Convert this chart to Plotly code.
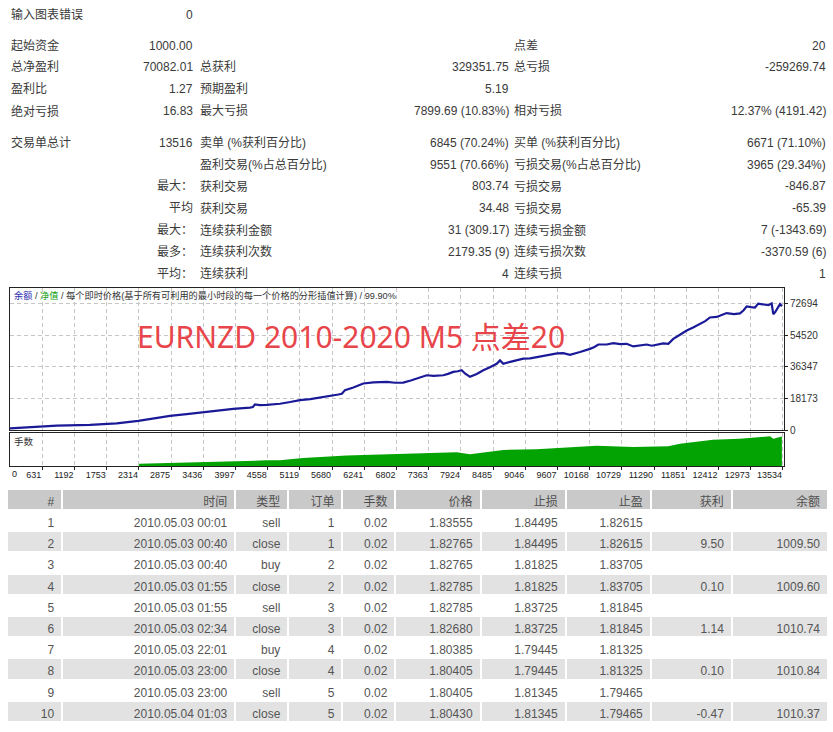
import plotly.graph_objects as go

W, H = 833, 732

# ---------------- summary statistics (top block) ----------------
row_y = [15, 46, 68, 90, 112, 144, 166, 188, 210, 232, 254, 276]
col1_labels = ["输入图表错误", "起始资金", "总净盈利", "盈利比", "绝对亏损", "交易单总计"]
col1_values = ["0", "1000.00", "70082.01", "1.27", "16.83", "13516", "",
               "最大：", "平均", "最大：", "最多：", "平均："]
col2_labels = ["", "", "总获利", "预期盈利", "最大亏损", "卖单 (%获利百分比)",
               "盈利交易(%占总百分比)", "获利交易", "获利交易", "连续获利金额",
               "连续获利次数", "连续获利"]
col2_values = ["", "", "329351.75", "5.19", "7899.69 (10.83%)", "6845 (70.24%)",
               "9551 (70.66%)", "803.74", "34.48", "31 (309.17)", "2179.35 (9)", "4"]
col3_labels = ["", "点差", "总亏损", "", "相对亏损", "买单 (%获利百分比)",
               "亏损交易(%占总百分比)", "亏损交易", "亏损交易", "连续亏损金额",
               "连续亏损次数", "连续亏损"]
col3_values = ["", "20", "-259269.74", "", "12.37% (4191.42)", "6671 (71.10%)",
               "3965 (29.34%)", "-846.87", "-65.39", "7 (-1343.69)", "-3370.59 (6)", "1"]

# ---------------- balance curve (trade number -> balance) ----------------
bal_trades = [0, 648, 882, 1462, 1753, 1927, 2303, 2565, 2856, 3146, 3436, 3727,
              3958, 4249, 4300, 4336, 4420, 4540, 4650, 4772, 4950, 5120, 5300,
              5469, 5620, 5788, 5850, 5904, 6050, 6223, 6400, 6631, 6780,
              6920, 7050, 7154, 7240, 7328, 7450, 7617, 7700, 7791, 7870, 7937,
              8000, 8082, 8200, 8314, 8430, 8547, 8605, 8662, 8800, 9011, 9130,
              9244, 9360, 9476, 9600, 9708, 9824, 9999, 10080, 10173, 10250,
              10318, 10464, 10579, 10700, 10812, 10927, 11050, 11161, 11250,
              11335, 11450, 11537, 11624, 11740, 11858, 11970, 12089, 12180,
              12263, 12380, 12467, 12554, 12680, 12786, 12850, 12903, 12980,
              13047, 13105, 13200, 13279, 13338, 13366, 13400, 13436, 13483, 13516]
balance = [1000, 2300, 2700, 3200, 3600, 4100, 5500, 7000, 8300, 9300, 10400, 11700,
           12300, 13100, 13400, 14900, 14500, 14600, 14900, 15300, 16300, 17400, 17900,
           18700, 19500, 20600, 21000, 23100, 24600, 26900, 27500, 27800, 27300,
           27400, 28600, 29700, 30800, 31600, 31200, 31600, 32400, 33500, 33900, 34500,
           32500, 30700, 32300, 34500, 36200, 38200, 40100, 38200, 39400, 41100, 41300,
           42000, 42600, 43500, 44100, 44300, 43300, 44900, 45600, 46700, 47800,
           49200, 49200, 50000, 49400, 49600, 48100, 48600, 49200, 48500,
           49000, 49800, 49600, 52400, 54800, 57200, 58900, 60900, 62600,
           64700, 65000, 66100, 67200, 66600, 67000, 68800, 71000, 70600,
           70400, 72600, 71900, 71700, 72690, 66600, 67800, 69500, 72300, 71082]

# ---------------- lots panel ----------------
lot_trades = [0, 2310, 2320, 2856, 3436, 4249, 4540, 4772, 5172, 5934, 6914, 7328,
              7850, 8082, 8662, 9244, 9892, 10289, 10927, 11537, 11741, 12089,
              12315, 12786, 13077, 13309, 13366, 13516]
lots = [0.02, 0.02, 0.13, 0.17, 0.24, 0.31, 0.30, 0.31, 0.41, 0.53, 0.61, 0.64,
        0.69, 0.59, 0.80, 0.84, 0.92, 1.00, 0.94, 0.98, 1.10, 1.23,
        1.29, 1.34, 1.42, 1.46, 1.34, 1.45]

x_tick_vals = [631, 1192, 1753, 2314, 2875, 3436, 3997, 4558, 5119, 5680, 6241,
               6802, 7363, 7924, 8485, 9046, 9607, 10168, 10729, 11290, 11851,
               12412, 12973, 13534]
x_tick_text = [str(v) for v in x_tick_vals]
y_tick_vals = [0, 18173, 36347, 54520, 72694]
y_tick_text = ["0", "18173", "36347", "54520", "72694"]

# ---------------- trade list table ----------------
tbl_header = ["#", "时间", "类型", "订单", "手数", "价格", "止损", "止盈", "获利", "余额"]
tbl_no = ["1", "2", "3", "4", "5", "6", "7", "8", "9", "10"]
tbl_time = ["2010.05.03 00:01", "2010.05.03 00:40", "2010.05.03 00:40",
            "2010.05.03 01:55", "2010.05.03 01:55", "2010.05.03 02:34",
            "2010.05.03 22:01", "2010.05.03 23:00", "2010.05.03 23:00",
            "2010.05.04 01:03"]
tbl_type = ["sell", "close", "buy", "close", "sell", "close", "buy", "close", "sell", "close"]
tbl_order = ["1", "1", "2", "2", "3", "3", "4", "4", "5", "5"]
tbl_lots = ["0.02", "0.02", "0.02", "0.02", "0.02", "0.02", "0.02", "0.02", "0.02", "0.02"]
tbl_price = ["1.83555", "1.82765", "1.82765", "1.82785", "1.82785", "1.82680",
             "1.80385", "1.80405", "1.80405", "1.80430"]
tbl_sl = ["1.84495", "1.84495", "1.81825", "1.81825", "1.83725", "1.83725",
          "1.79445", "1.79445", "1.81345", "1.81345"]
tbl_tp = ["1.82615", "1.82615", "1.83705", "1.83705", "1.81845", "1.81845",
          "1.81325", "1.81325", "1.79465", "1.79465"]
tbl_profit = ["", "9.50", "", "0.10", "", "1.14", "", "0.10", "", "-0.47"]
tbl_balance = ["", "1009.50", "", "1009.60", "", "1010.74", "", "1010.84", "", "1010.37"]

FONT = "Liberation Sans, Noto Sans CJK SC, sans-serif"
TXT = "#3a3a3a"
GRID = "#c6c6c6"


def px(x):
    return x / W


def py(y):
    return 1 - y / H


fig = go.Figure()

fig.add_trace(go.Scatter(x=bal_trades, y=balance, mode="lines",
                         line=dict(color="#1a1a98", width=2.2),
                         xaxis="x", yaxis="y", showlegend=False, hoverinfo="skip"))
fig.add_trace(go.Scatter(x=lot_trades, y=lots, mode="lines",
                         line=dict(color="#00a000", width=0), fill="tozeroy",
                         fillcolor="#02a302", xaxis="x2", yaxis="y2",
                         showlegend=False, hoverinfo="skip"))

n_rows = len(tbl_no)
row_fill = ["#ffffff" if i % 2 == 0 else "#e2e2e2" for i in range(n_rows)]
fig.add_trace(go.Table(
    domain=dict(x=[px(7), px(828)], y=[0, py(493)]),
    columnwidth=[55, 173, 53, 54, 53, 85, 85, 85, 81, 96],
    header=dict(values=tbl_header, fill_color="#c9c9c9", align="right",
                line=dict(color="#ffffff", width=2), height=21,
                font=dict(family=FONT, size=12, color="#505050")),
    cells=dict(values=[tbl_no, tbl_time, tbl_type, tbl_order, tbl_lots, tbl_price,
                       tbl_sl, tbl_tp, tbl_profit, tbl_balance],
               fill_color=[row_fill] * 10, align="right",
               line=dict(color="#ffffff", width=2), height=21.2,
               font=dict(family=FONT, size=12, color="#555555")),
))

ann = []


def add_text(x, y, text, anchor, size=12, color=TXT):
    if text == "":
        return
    ann.append(dict(x=px(x), y=py(y), xref="paper", yref="paper", text=text,
                    xanchor=anchor, yanchor="middle", showarrow=False,
                    font=dict(family=FONT, size=size, color=color)))


for i, t in enumerate(col1_labels):
    add_text(9, row_y[i], t, "left")
for i, t in enumerate(col1_values):
    add_text(195, row_y[i], t, "right")
for i, t in enumerate(col2_labels):
    add_text(198, row_y[i], t, "left")
for i, t in enumerate(col2_values):
    add_text(511, row_y[i], t, "right")
for i, t in enumerate(col3_labels):
    add_text(512, row_y[i], t, "left")
for i, t in enumerate(col3_values):
    add_text(828, row_y[i], t, "right")

# chart header line
add_text(12, 298,
         '<span style="color:#2b2bb0">余额</span> / '
         '<span style="color:#10a010">净值</span> / '
         '每个即时价格(基于所有可利用的最小时段的每一个价格的分形插值计算) / 99.90%',
         "left", size=9.2, color="#333333")
add_text(12, 445, "手数", "left", size=9.5, color="#333333")
add_text(10, 478, "0", "left", size=9, color="#222222")
ann.append(dict(x=px(351), y=py(339), xref="paper", yref="paper",
                text="EURNZD 2010-2020 M5 点差20", showarrow=False,
                xanchor="center", yanchor="middle",
                font=dict(family="Noto Sans, Noto Sans CJK SC, sans-serif",
                          size=30, color="#e8454a")))

x_range = [68, 13553]
common_x = dict(range=x_range, tickvals=x_tick_vals, showgrid=True, gridcolor=GRID,
                griddash="4px,3px", gridwidth=1, zeroline=False, showline=True,
                mirror=True, linecolor="#222222", linewidth=1, fixedrange=True)

fig.update_layout(
    width=W, height=H,
    margin=dict(l=0, r=0, t=0, b=0),
    paper_bgcolor="white", plot_bgcolor="white",
    font=dict(family=FONT, size=12, color=TXT),
    showlegend=False,
    annotations=ann,
    xaxis=dict(domain=[px(10), px(784)], anchor="y", showticklabels=False, ticks="",
               **common_x),
    yaxis=dict(domain=[py(434), py(290)], anchor="x", side="right",
               range=[0, 81779], tickvals=y_tick_vals, ticktext=y_tick_text,
               ticks="outside", ticklen=3, tickcolor="#222222",
               tickfont=dict(family=FONT, size=10, color="#333333"),
               showgrid=True, gridcolor=GRID, griddash="4px,3px", zeroline=False,
               showline=True, mirror=True, linecolor="#222222", linewidth=1),
    xaxis2=dict(domain=[px(10), px(784)], anchor="y2", ticktext=x_tick_text,
                ticks="outside", ticklen=3, tickcolor="#222222", tickangle=0,
                ticklabelposition="outside left",
                tickfont=dict(family=FONT, size=9, color="#222222"),
                **common_x),
    yaxis2=dict(domain=[py(470), py(437)], anchor="x2", range=[0.02, 1.6],
                showticklabels=False, ticks="", showgrid=False, zeroline=False,
                showline=True, mirror=True, linecolor="#222222", linewidth=1),
)

fig.write_html("out.html",
               config={"displayModeBar": False, "staticPlot": False},
               post_script="document.body.style.margin='0';"
                           "document.body.style.overflow='hidden';"
                           "document.documentElement.style.overflow='hidden';")
